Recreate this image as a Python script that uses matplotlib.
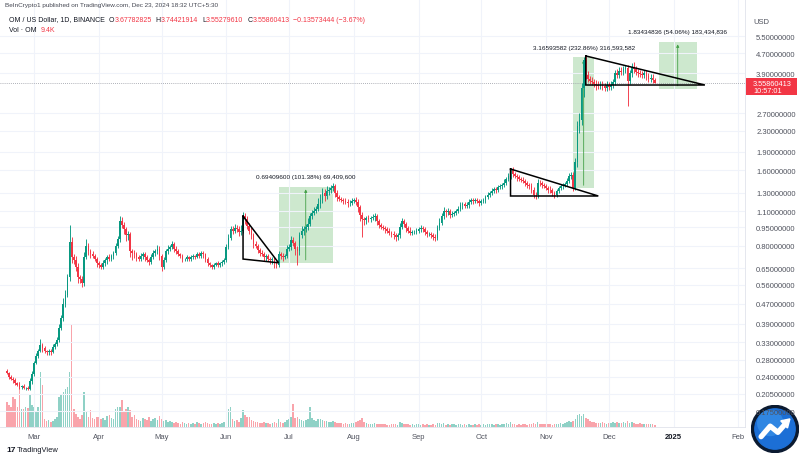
import matplotlib
matplotlib.use('Agg')
import matplotlib.pyplot as plt
import matplotlib.dates as mdates
from matplotlib.patches import Rectangle, Circle, Polygon
from matplotlib.ticker import NullLocator
import numpy as np
import pandas as pd

plt.rcParams['font.family'] = ['Liberation Sans', 'DejaVu Sans']

# OM/USD daily closes (Binance), Feb 17 2024 -> Dec 23 2024
feb_close = [0.248, 0.240, 0.236, 0.232, 0.226, 0.222, 0.218, 0.221, 0.216, 0.217, 0.215, 0.230, 0.247]
mar_close = [0.272, 0.290, 0.305, 0.322, 0.312, 0.305, 0.300, 0.305, 0.302, 0.315, 0.325, 0.335, 0.375, 0.410, 0.470,
             0.510, 0.600, 0.830, 0.720, 0.700, 0.660, 0.600, 0.590, 0.570, 0.720, 0.800, 0.760, 0.740, 0.730, 0.710, 0.680]
apr_close = [0.670, 0.660, 0.680, 0.700, 0.720, 0.710, 0.730, 0.750, 0.800, 0.850, 1.000, 0.970, 0.930, 0.880, 0.890,
             0.760, 0.750, 0.740, 0.720, 0.710, 0.730, 0.740, 0.720, 0.700, 0.690, 0.720, 0.750, 0.760, 0.780, 0.730]
may_close = [0.660, 0.700, 0.760, 0.780, 0.790, 0.810, 0.780, 0.760, 0.740, 0.730, 0.710, 0.710, 0.720, 0.710, 0.720,
             0.730, 0.720, 0.740, 0.730, 0.750, 0.740, 0.710, 0.680, 0.670, 0.660, 0.670, 0.680, 0.670, 0.680, 0.690, 0.700]
jun_close = [0.790, 0.860, 0.930, 0.920, 0.940, 0.930, 0.910, 0.920, 1.050, 1.020, 0.960, 0.920, 0.880, 0.810, 0.800,
             0.770, 0.750, 0.740, 0.720, 0.730, 0.710, 0.700, 0.710, 0.680, 0.670, 0.740, 0.730, 0.720, 0.730, 0.780]
jul_close = [0.790, 0.840, 0.820, 0.780, 0.760, 0.880, 0.920, 0.930, 0.950, 0.980, 1.050, 1.080, 1.100, 1.120, 1.170,
             1.220, 1.300, 1.260, 1.320, 1.330, 1.360, 1.380, 1.300, 1.250, 1.230, 1.220, 1.210, 1.200, 1.180, 1.190, 1.210]
aug_close = [1.220, 1.200, 1.140, 1.060, 1.020, 1.010, 1.030, 1.020, 1.030, 1.040, 1.050, 1.000, 0.970, 0.950, 0.940,
             0.930, 0.920, 0.900, 0.890, 0.880, 0.870, 0.880, 0.950, 1.000, 0.980, 0.940, 0.920, 0.900, 0.910, 0.910, 0.920]
sep_close = [0.930, 0.940, 0.930, 0.910, 0.890, 0.890, 0.880, 0.870, 0.860, 0.940, 0.990, 1.050, 1.100, 1.090, 1.100,
             1.060, 1.070, 1.080, 1.100, 1.120, 1.160, 1.170, 1.150, 1.160, 1.200, 1.220, 1.210, 1.220, 1.210, 1.190]
oct_close = [1.210, 1.220, 1.250, 1.280, 1.300, 1.320, 1.350, 1.340, 1.370, 1.380, 1.400, 1.430, 1.480, 1.520, 1.600,
             1.550, 1.520, 1.500, 1.480, 1.470, 1.450, 1.420, 1.400, 1.380, 1.340, 1.280, 1.270, 1.430, 1.420, 1.400, 1.390]
nov_close = [1.360, 1.340, 1.330, 1.300, 1.280, 1.320, 1.360, 1.380, 1.400, 1.410, 1.450, 1.520, 1.530, 1.360, 1.720,
             2.400, 2.550, 3.400, 4.400, 3.850, 3.700, 3.650, 3.600, 3.550, 3.500, 3.470, 3.520, 3.480, 3.420, 3.500]
dec_close = [3.450, 3.520, 3.600, 3.900, 3.850, 4.000, 3.950, 4.050, 4.100, 3.650, 3.900, 4.150, 4.050, 3.950, 3.900,
             3.880, 3.850, 3.900, 3.800, 3.700, 3.750, 3.678, 3.559]
first_open = 0.252

# wick length beyond the body, % (upper / lower)
feb_up = [2, 1, 2, 1, 2, 1, 3, 1, 2, 1, 2, 3, 2]
mar_up = [2, 3, 2, 5, 2, 2, 1, 2, 2, 3, 2, 3, 4, 3, 5, 4, 3, 17, 4, 3, 4, 3, 2, 3, 5, 6, 3, 2, 3, 2, 2]
apr_up = [2, 2, 3, 2, 2, 3, 2, 2, 3, 3, 5, 4, 3, 2, 3, 2, 2, 3, 2, 2, 3, 2, 2, 2, 2, 3, 3, 2, 3, 2]
may_up = [2, 3, 2, 3, 2, 3, 2, 2, 2, 1, 2, 1, 2, 1, 2, 2, 1, 2, 2, 2, 2, 1, 2, 1, 1, 2, 1, 2, 1, 2, 2]
jun_up = [3, 4, 3, 3, 4, 3, 3, 5, 4, 3, 3, 3, 3, 2, 3, 2, 2, 3, 2, 2, 2, 2, 2, 2, 2, 3, 2, 3, 2, 3]
jul_up = [3, 4, 3, 2, 2, 3, 4, 3, 3, 5, 3, 3, 4, 3, 6, 6, 5, 4, 5, 3, 3, 3, 2, 3, 2, 2, 2, 3, 2, 2, 3]
aug_up = [2, 3, 2, 2, 3, 2, 2, 3, 2, 3, 3, 2, 2, 2, 2, 2, 2, 2, 2, 3, 2, 2, 4, 3, 2, 2, 2, 3, 2, 2, 2]
sep_up = [2, 3, 2, 2, 2, 2, 2, 2, 2, 3, 4, 3, 4, 2, 3, 2, 3, 2, 2, 3, 3, 2, 2, 3, 2, 2, 2, 2, 2, 2]
oct_up = [2, 2, 2, 2, 2, 3, 2, 2, 2, 2, 2, 3, 2, 3, 2, 3, 2, 2, 2, 2, 2, 2, 2, 2, 3, 2, 2, 3, 2, 2, 2]
nov_up = [2, 2, 3, 2, 2, 2, 2, 2, 2, 2, 3, 3, 3, 3, 4, 5, 6, 5, 3, 5, 4, 3, 3, 3, 3, 4, 3, 3, 3, 4]
dec_up = [3, 3, 3, 3, 4, 3, 3, 3, 3, 3, 3, 3, 4, 3, 3, 3, 3, 3, 3, 3, 3, 3, 2]

feb_dn = [1, 2, 1, 2, 2, 1, 2, 2, 1, 2, 1, 1, 2]
mar_dn = [2, 1, 2, 1, 3, 2, 2, 2, 3, 1, 2, 2, 1, 2, 2, 3, 2, 4, 5, 3, 4, 5, 4, 4, 3, 2, 3, 3, 2, 2, 3]
apr_dn = [3, 2, 2, 2, 3, 2, 2, 3, 2, 2, 3, 3, 4, 5, 4, 5, 6, 3, 3, 2, 2, 3, 3, 2, 3, 2, 2, 3, 2, 4]
may_dn = [4, 2, 2, 2, 2, 2, 3, 2, 2, 2, 3, 2, 2, 2, 2, 2, 2, 1, 2, 2, 3, 3, 2, 2, 2, 2, 1, 2, 2, 2, 2]
jun_dn = [2, 2, 2, 3, 2, 2, 4, 3, 2, 4, 3, 3, 3, 3, 2, 3, 3, 2, 3, 3, 2, 3, 3, 4, 3, 2, 3, 3, 2, 2]
jul_dn = [2, 3, 3, 6, 12, 3, 2, 4, 2, 3, 2, 3, 2, 2, 2, 3, 3, 4, 2, 3, 2, 3, 4, 3, 2, 2, 3, 2, 3, 2, 2]
aug_dn = [2, 3, 4, 5, 15, 4, 3, 2, 2, 2, 3, 3, 3, 2, 2, 3, 2, 2, 3, 3, 4, 3, 2, 2, 3, 3, 2, 2, 2, 2, 2]
sep_dn = [2, 2, 2, 3, 3, 2, 2, 3, 3, 2, 2, 2, 3, 4, 3, 3, 2, 2, 2, 2, 2, 3, 2, 2, 2, 2, 3, 2, 2, 3]
oct_dn = [2, 2, 3, 2, 2, 2, 2, 3, 2, 2, 2, 2, 2, 2, 3, 3, 2, 3, 2, 2, 2, 2, 3, 2, 3, 3, 3, 2, 2, 3, 2]
nov_dn = [2, 3, 2, 3, 3, 2, 2, 2, 2, 2, 2, 2, 3, 3, 2, 4, 6, 5, 8, 4, 3, 3, 3, 3, 4, 3, 3, 4, 3, 3]
dec_dn = [3, 3, 3, 3, 3, 3, 3, 3, 3, 21, 3, 3, 3, 3, 3, 3, 3, 3, 3, 3, 3, 3, 0]

# volume (relative units)
feb_vol = [25, 22, 20, 30, 28, 20, 45, 18, 18, 20, 19, 32, 22]
mar_vol = [20, 15, 20, 55, 42, 8, 6, 7, 5, 6, 8, 10, 30, 32, 35, 38, 40, 55, 103, 18, 13, 10, 8, 12, 35, 15, 10, 17, 9, 8, 10]
apr_vol = [10, 8, 9, 7, 11, 12, 9, 8, 18, 20, 20, 27, 15, 18, 20, 17, 10, 12, 8, 7, 6, 9, 8, 7, 10, 6, 8, 9, 7, 11]
may_vol = [8, 6, 7, 5, 6, 5, 4, 5, 4, 3, 5, 4, 3, 4, 3, 4, 3, 5, 4, 3, 4, 5, 4, 3, 3, 4, 3, 4, 3, 4, 5]
jun_vol = [20, 18, 20, 8, 6, 7, 5, 9, 17, 12, 10, 10, 7, 6, 5, 5, 4, 4, 5, 4, 4, 3, 4, 5, 4, 8, 5, 4, 5, 7]
jul_vol = [8, 10, 23, 9, 10, 8, 7, 6, 7, 8, 20, 9, 7, 6, 8, 8, 7, 6, 6, 5, 5, 6, 5, 4, 4, 4, 3, 4, 3, 3, 4]
aug_vol = [4, 5, 6, 7, 9, 5, 4, 3, 3, 3, 4, 3, 3, 3, 3, 3, 2, 2, 3, 3, 3, 2, 5, 4, 3, 3, 3, 2, 3, 2, 3]
sep_vol = [3, 2, 3, 2, 3, 2, 2, 3, 2, 4, 4, 3, 4, 2, 3, 2, 3, 3, 2, 3, 3, 2, 3, 2, 3, 2, 2, 3, 2, 3]
oct_vol = [2, 3, 2, 3, 3, 3, 2, 3, 3, 2, 3, 3, 4, 3, 5, 3, 3, 2, 3, 2, 3, 3, 2, 3, 3, 4, 3, 5, 3, 3, 3]
nov_vol = [3, 3, 3, 2, 3, 3, 3, 4, 3, 4, 5, 6, 5, 6, 8, 12, 13, 11, 13, 9, 8, 6, 5, 5, 4, 4, 4, 5, 4, 3]
dec_vol = [4, 4, 5, 4, 5, 4, 4, 5, 4, 6, 4, 5, 4, 3, 3, 4, 3, 3, 3, 3, 3, 3, 2]

price_ticks = [5.5, 4.7, 3.9, 2.7, 2.3, 1.9, 1.6, 1.3, 1.1, 0.95, 0.8, 0.65, 0.56, 0.47, 0.39, 0.33, 0.28, 0.24, 0.205, 0.175]
month_ticks = ['2024-03-01', '2024-04-01', '2024-05-01', '2024-06-01', '2024-07-01', '2024-08-01', '2024-09-01',
               '2024-10-01', '2024-11-01', '2024-12-01', '2025-01-01', '2025-02-01']
month_labels = ['Mar', 'Apr', 'May', 'Jun', 'Jul', 'Aug', 'Sep', 'Oct', 'Nov', 'Dec', '2025', 'Feb']
last_price = 3.55860413

# drawings on the chart: triangles (3 points) and price-range boxes
triangles = [
    [('2024-06-09', 1.05), ('2024-06-09', 0.708), ('2024-06-26', 0.684)],
    [('2024-10-15', 1.62), ('2024-10-15', 1.264), ('2024-11-26', 1.264)],
    [('2024-11-20', 4.58), ('2024-11-20', 3.506), ('2025-01-16', 3.506)],
]
box_left = ['2024-06-26', '2024-11-14', '2024-12-25']
box_right = ['2024-07-22', '2024-11-24', '2025-01-12']
box_mid = ['2024-07-09', '2024-11-19', '2025-01-03']
box_low = [0.6846, 1.3596, 3.393]
box_high = [1.3787, 4.5255, 5.228]
box_text = ['0.69409600 (101.38%) 69,409,600', '3.16593582 (232.86%) 316,593,582',
            '1.83434836 (54.06%) 183,434,836']

close = np.array(feb_close + mar_close + apr_close + may_close + jun_close + jul_close + aug_close
                 + sep_close + oct_close + nov_close + dec_close)
up = np.array(feb_up + mar_up + apr_up + may_up + jun_up + jul_up + aug_up + sep_up + oct_up + nov_up + dec_up) / 100
dn = np.array(feb_dn + mar_dn + apr_dn + may_dn + jun_dn + jul_dn + aug_dn + sep_dn + oct_dn + nov_dn + dec_dn) / 100
vol = np.array(feb_vol + mar_vol + apr_vol + may_vol + jun_vol + jul_vol + aug_vol + sep_vol + oct_vol + nov_vol + dec_vol)
assert len(close) == len(up) == len(dn) == len(vol) == 311

dates = pd.date_range('2024-02-17', periods=len(close), freq='D')
x = mdates.date2num(dates)
opens = np.concatenate([[first_open], close[:-1]])
highs = np.maximum(opens, close) * (1 + up)
lows = np.minimum(opens, close) * (1 - dn)
rising = close >= opens

UP = '#089981'
DOWN = '#f23645'
TXT = '#131722'
W, H = 800, 460


def dn_(s):
    return mdates.date2num(pd.Timestamp(s))


fig = plt.figure(figsize=(W / 100, H / 100), dpi=100)
fig.patch.set_facecolor('white')
ax = fig.add_axes([0, 32 / H, 745 / W, 428 / H])
vax = ax.twinx()
ax.set_zorder(vax.get_zorder() + 1)
ax.patch.set_visible(False)

# volume
vcol = np.where(rising, UP, DOWN)
vax.bar(x, vol, width=0.75, color=vcol, alpha=0.45, linewidth=0)
vax.set_ylim(0, vol.max() * 428 / 103)
vax.axis('off')

# candles
ax.set_yscale('log')
ax.vlines(x, lows, highs, colors=np.where(rising, UP, DOWN), linewidth=0.65, zorder=3)
ax.bar(x, np.abs(close - opens), bottom=np.minimum(opens, close), width=0.82,
       color=np.where(rising, UP, DOWN), linewidth=0, zorder=4)

# price-range boxes
for i in range(3):
    l, r = dn_(box_left[i]), dn_(box_right[i])
    ax.add_patch(Rectangle((l, box_low[i]), r - l, box_high[i] - box_low[i],
                           facecolor='#4caf50', alpha=0.28, edgecolor='none', zorder=1))
    m = dn_(box_mid[i])
    ax.annotate('', xy=(m, box_high[i]), xytext=(m, box_low[i]),
                arrowprops=dict(arrowstyle='-|>', color='#43a047', lw=0.6, mutation_scale=4), zorder=2)
    ax.text((l + r) / 2, box_high[i] * 1.07, box_text[i], ha='center', va='bottom',
            fontsize=4.6, color=TXT, zorder=6)

# triangles
for tri in triangles:
    px = [dn_(d) for d, p in tri] + [dn_(tri[0][0])]
    py = [p for d, p in tri] + [tri[0][1]]
    ax.plot(px, py, color='black', linewidth=1.1, zorder=5, solid_joinstyle='miter')

# last price line
ax.axhline(last_price, color='#9598a1', linewidth=0.6, linestyle=(0, (1, 1.5)), zorder=2)

ax.set_xlim(dn_('2024-03-01') - 16.3, dn_('2024-03-01') + 340.2)
ax.set_ylim(0.1512, 7.73)

ax.yaxis.tick_right()
ax.set_yticks(price_ticks)
ax.set_yticklabels(['%.8f' % t for t in price_ticks])
ax.yaxis.set_minor_locator(NullLocator())
ax.tick_params(axis='y', length=0, pad=8, labelsize=5.5, labelcolor='#50535e')
ax.set_xticks([dn_(m) for m in month_ticks])
ax.set_xticklabels(month_labels)
ax.xaxis.set_minor_locator(NullLocator())
ax.tick_params(axis='x', length=0, pad=4, labelsize=5.5, labelcolor='#50535e')
for lab in ax.get_xticklabels():
    if lab.get_text() == '2025':
        lab.set_fontweight('bold')
        lab.set_color(TXT)
ax.grid(True, color='#f0f3fa', linewidth=0.8)
for side in ['top', 'left']:
    ax.spines[side].set_visible(False)
ax.spines['right'].set_color('#e0e3eb')
ax.spines['bottom'].set_color('#e0e3eb')
ax.spines['right'].set_linewidth(0.6)
ax.spines['bottom'].set_linewidth(0.6)


def ftext(px, py, s, **kw):
    return fig.text(px / W, 1 - py / H, s, va='center', **kw)


# header
ftext(5, 6, 'BeInCrypto1 published on TradingView.com, Dec 23, 2024 18:32 UTC+5:30', fontsize=4.6, color='#434651')
rend = fig.canvas.get_renderer()
parts = [('OM / US Dollar, 1D, BINANCE', TXT, 4), ('O', TXT, 0), ('3.67782825', DOWN, 4), ('H', TXT, 0),
         ('3.74421914', DOWN, 4), ('L', TXT, 0), ('3.55279610', DOWN, 4), ('C', TXT, 0),
         ('3.55860413', DOWN, 4), ('\u22120.13573444 (\u22123.67%)', DOWN, 0)]
cx = 9
for s, c, gap in parts:
    t = ftext(cx, 20, s, fontsize=5.0, color=c)
    cx += t.get_window_extent(renderer=rend).width + gap
t = ftext(9, 31, 'Vol \u00b7 OM', fontsize=5.0, color=TXT)
ftext(9 + t.get_window_extent(renderer=rend).width + 4, 31, '9.4K', fontsize=5.0, color=DOWN)

# price scale extras
ftext(753, 22, 'USD', fontsize=5.5, color='#50535e')
fig.patches.append(Rectangle((746 / W, 1 - 96 / H), 51 / W, 17 / H, transform=fig.transFigure,
                             facecolor=DOWN, edgecolor='none'))
ftext(753, 84, '%.8f' % last_price, fontsize=5.3, color='white')
ftext(753, 92, '10:57:01', fontsize=5.3, color='white')

# footer
ftext(6, 451, '17', fontsize=6, color=TXT, fontweight='bold')
ftext(17, 451, 'TradingView', fontsize=5.4, color=TXT)

# BeInCrypto logo
lax = fig.add_axes([751 / W, (H - 454) / H, 48 / W, 48 / H])
lax.set_xlim(-1, 1)
lax.set_ylim(-1, 1)
lax.axis('off')
lax.add_patch(Circle((0, 0), 0.98, color='#0b1a30'))
lax.add_patch(Circle((0, 0), 0.84, color='#1c6fd6'))
lax.add_patch(Circle((-0.2, 0.25), 0.55, color='#4aa3f2', alpha=0.45, linewidth=0))
lax.plot([-0.58, -0.2, 0.12, 0.42], [-0.32, 0.12, -0.14, 0.2], color='white', lw=3.8,
         solid_capstyle='round', solid_joinstyle='round')
lax.add_patch(Polygon([[0.62, 0.42], [0.24, 0.34], [0.52, 0.04]], color='white'))

fig.savefig('out.png', dpi=100, facecolor='white')
